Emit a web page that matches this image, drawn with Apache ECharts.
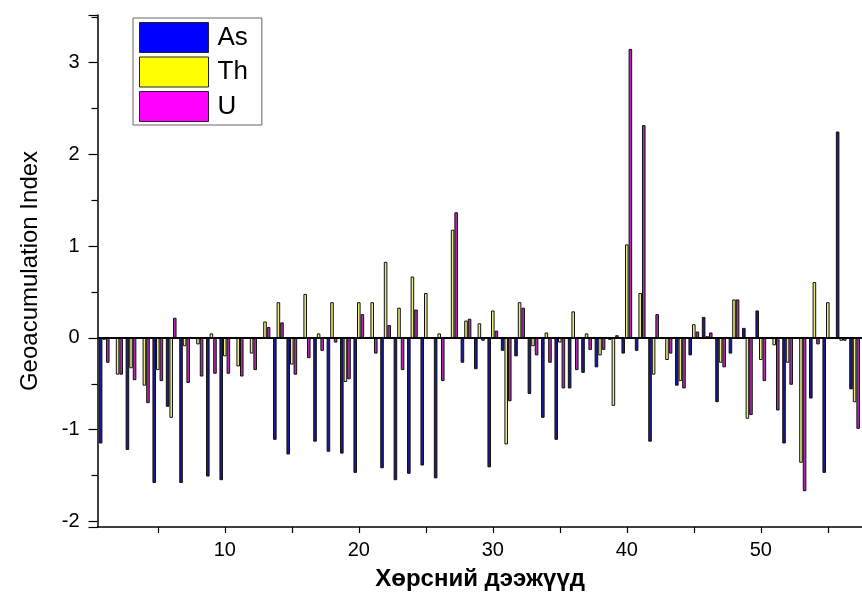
<!DOCTYPE html>
<html>
<head>
<meta charset="utf-8">
<script src="https://cdn.jsdelivr.net/npm/echarts@6/dist/echarts.min.js"></script>
<style>html,body{margin:0;padding:0;background:#fff;}#c{width:862px;height:592px;}</style>
</head>
<body>
<div id="c"></div>
<script>
const categories = ['1','2','3','4','5','6','7','8','9','10','11','12','13','14','15','16','17','18','19','20','21','22','23','24','25','26','27','28','29','30','31','32','33','34','35','36','37','38','39','40','41','42','43','44','45','46','47','48','49','50','51','52','53','54','55','56','57','58'];
const asValues = [-1.15,0,-1.22,0,-1.58,-0.75,-1.58,0,-1.51,-1.55,0,0,0,-1.11,-1.27,0,-1.13,-1.24,-1.26,-1.47,0,-1.42,-1.55,-1.48,-1.39,-1.53,0,-0.27,-0.34,-1.41,-0.14,-0.20,-0.61,-0.87,-1.11,-0.55,-0.38,-0.32,-0.02,-0.17,-0.14,-1.13,0,-0.52,-0.19,0.23,-0.70,-0.17,0.11,0.30,0,-1.15,0,-0.66,-1.47,2.25,-0.56,-1.40];
const thValues = [-0.02,-0.40,-0.33,-0.52,-0.35,-0.87,-0.09,-0.07,0.05,-0.20,-0.31,-0.17,0.18,0.39,-0.29,0.48,0.05,0.39,-0.48,0.39,0.39,0.83,0.33,0.67,0.49,0.05,1.18,0.19,0.16,0.30,-1.16,0.39,-0.09,0.06,-0.05,0.29,0.05,-0.19,-0.74,1.02,0.49,-0.40,-0.24,-0.47,0.15,0.02,-0.27,0.42,-0.88,-0.24,-0.08,-0.27,-1.36,0.61,0.39,-0.03,-0.70,null];
const uValues = [-0.27,-0.40,-0.46,-0.71,-0.47,0.22,-0.49,-0.42,-0.39,-0.39,-0.42,-0.35,0.12,0.17,-0.40,-0.22,-0.14,-0.05,-0.45,0.26,-0.17,0.14,-0.35,0.31,0,-0.47,1.37,0.21,-0.03,0.08,-0.69,0.33,-0.19,-0.27,-0.55,-0.35,-0.13,-0.13,0.03,3.15,2.32,0.26,-0.17,-0.55,0.07,0.06,-0.32,0.42,-0.84,-0.47,-0.79,-0.51,-1.67,-0.07,0.01,-0.03,-0.99,null];
const xTickLabels = ['10','20','30','40','50'];
const yTickLabels = [-2,-1,0,1,2,3];

const FONT = 'Liberation Sans, Arial, sans-serif';
const chart = echarts.init(document.getElementById('c'), null, {renderer:'canvas'});

function barSeries(name, data, color, withZero) {
  const s = {
    name: name, type: 'bar', data: data,
    barGap: '0%', barCategoryGap: '20%',
    itemStyle: {color: color, borderColor: '#111', borderWidth: 1},
    emphasis: {disabled: true},
    animation: false
  };
  if (withZero) {
    s.markLine = {
      silent: true, symbol: ['none','none'], animation: false,
      label: {show: false},
      lineStyle: {color: '#000', width: 2, type: 'solid'},
      data: [{yAxis: 0}]
    };
  }
  return s;
}

chart.setOption({
  animation: false,
  backgroundColor: '#fff',
  grid: {left: 97.5, right: -12.7, top: 15, bottom: 65, containLabel: false, outerBoundsMode: 'none'},
  legend: {
    orient: 'vertical', left: 133, top: 18,
    icon: 'rect', itemWidth: 69, itemHeight: 30, itemGap: 3.5,
    padding: [4, 14, 3, 6],
    borderColor: '#666', borderWidth: 1,
    textStyle: {fontFamily: FONT, fontSize: 26, color: '#000', padding: [0,0,0,4]},
    data: [
      {name: 'As', itemStyle: {color: '#0000FF', borderColor: '#222', borderWidth: 1}},
      {name: 'Th', itemStyle: {color: '#FFFF00', borderColor: '#222', borderWidth: 1}},
      {name: 'U', itemStyle: {color: '#FF00FF', borderColor: '#222', borderWidth: 1}}
    ]
  },
  xAxis: {
    type: 'category', data: categories, boundaryGap: true,
    name: 'Хөрсний дээжүүд', nameLocation: 'middle', nameGap: 40,
    nameTextStyle: {fontFamily: FONT, fontSize: 24, fontWeight: 'bold', color: '#000', padding: [0, 12, 0, 0]},
    axisLine: {show: true, onZero: false, lineStyle: {color: '#000', width: 1.5}},
    axisTick: {show: true, inside: false, length: 6, alignWithLabel: true,
      interval: function (i) { return (i + 1) % 5 === 0; },
      lineStyle: {color: '#000', width: 1.2}},
    axisLabel: {fontFamily: FONT, fontSize: 20, color: '#000', margin: 13,
      interval: function (i, v) { return xTickLabels.indexOf(v) >= 0; }},
    splitLine: {show: false}
  },
  yAxis: {
    type: 'value', min: -2.06, max: 3.52, minInterval: 1, maxInterval: 1,
    name: 'Geoacumulation Index', nameLocation: 'middle', nameGap: 55,
    nameTextStyle: {fontFamily: FONT, fontSize: 24, color: '#000'},
    axisLine: {show: true, lineStyle: {color: '#000', width: 1.5}},
    axisTick: {show: true, inside: false, length: 9, lineStyle: {color: '#000', width: 1.2}},
    minorTick: {show: true, splitNumber: 2, length: 6, lineStyle: {color: '#000', width: 1.2}},
    axisLabel: {fontFamily: FONT, fontSize: 20, color: '#000', margin: 18,
      showMinLabel: false, showMaxLabel: false,
      formatter: function (v) { return yTickLabels.indexOf(v) >= 0 ? String(v) : ''; }},
    splitLine: {show: false}
  },
  series: [
    barSeries('As', asValues, '#1A1A92', true),
    barSeries('Th', thValues, '#ECEC80', false),
    barSeries('U', uValues, '#B02AB0', false)
  ]
});
</script>
</body>
</html>
